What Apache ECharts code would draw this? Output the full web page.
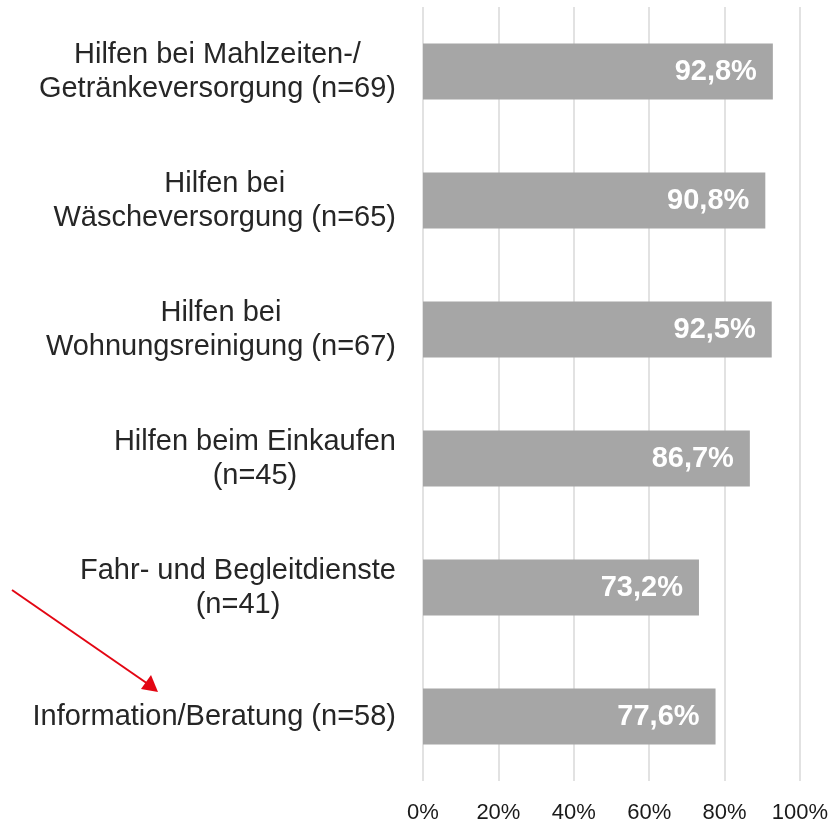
<!DOCTYPE html>
<html>
<head>
<meta charset="utf-8">
<script src="https://cdn.jsdelivr.net/npm/echarts@6/dist/echarts.min.js"></script>
<style>
  html, body { margin: 0; padding: 0; background: #fff; }
  #chart { width: 840px; height: 824px; }
</style>
</head>
<body>
<div id="chart"></div>
<script>
  // categories (top to bottom), lines split as in the source
  var categories = [
    'Hilfen bei Mahlzeiten-/\nGetränkeversorgung (n=69)',
    'Hilfen bei\nWäscheversorgung (n=65)',
    'Hilfen bei\nWohnungsreinigung (n=67)',
    'Hilfen beim Einkaufen\n(n=45)',
    'Fahr- und Begleitdienste\n(n=41)',
    'Information/Beratung (n=58)'
  ];
  var shares = [92.8, 90.8, 92.5, 86.7, 73.2, 77.6];
  var xTicks = [0, 20, 40, 60, 80, 100];

  var font = '"Liberation Sans", Arial, sans-serif';

  var option = {
    animation: false,
    grid: { left: 423, right: 40, top: 7, bottom: 42, containLabel: false },
    xAxis: {
      type: 'value',
      min: xTicks[0],
      max: xTicks[xTicks.length - 1],
      interval: 20,
      axisLine: { show: false },
      axisTick: { show: false },
      splitLine: { lineStyle: { color: '#d9d9d9', width: 1.5 } },
      axisLabel: {
        formatter: '{value}%',
        color: '#1a1a1a',
        fontFamily: font,
        fontSize: 22,
        margin: 21
      }
    },
    yAxis: {
      type: 'category',
      inverse: true,
      data: categories,
      axisLine: { show: false },
      axisTick: { show: false },
      axisLabel: {
        margin: 27,
        align: 'right',
        formatter: function (v) {
          return v.split('\n').map(function (s) { return '{c|' + s + '}'; }).join('\n');
        },
        rich: {
          c: {
            align: 'center',
            color: '#262626',
            fontFamily: font,
            fontSize: 29,
            lineHeight: 34
          }
        }
      }
    },
    series: [{
      type: 'bar',
      data: shares,
      barWidth: 56,
      itemStyle: { color: '#a6a6a6' },
      label: {
        show: true,
        position: 'insideRight',
        distance: 16,
        color: '#fff',
        fontFamily: font,
        fontWeight: 'bold',
        fontSize: 29,
        formatter: function (p) { return p.value.toFixed(1).replace('.', ',') + '%'; }
      }
    }],
    graphic: [
      {
        type: 'line',
        shape: { x1: 12, y1: 590, x2: 148, y2: 684 },
        style: { stroke: '#e30613', lineWidth: 2 }
      },
      {
        type: 'polygon',
        shape: { points: [[158, 692], [141, 689], [151, 675]] },
        style: { fill: '#e30613' }
      }
    ]
  };

  echarts.init(document.getElementById('chart')).setOption(option);
</script>
</body>
</html>
